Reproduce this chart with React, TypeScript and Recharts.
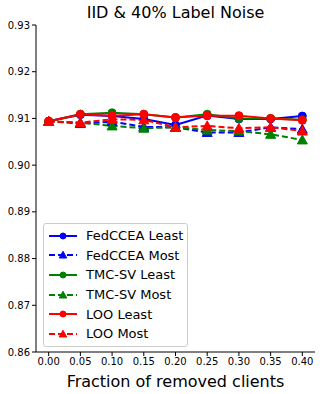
import { Line, LineChart, XAxis, YAxis } from 'recharts';

const fractions = [0, 0.05, 0.1, 0.15, 0.2, 0.25, 0.3, 0.35, 0.4];
const fedLeast = [0.9094, 0.9108, 0.9105, 0.9099, 0.9086, 0.9106, 0.9099, 0.9099, 0.9105];
const fedMost = [0.9094, 0.9089, 0.9093, 0.9082, 0.9081, 0.907, 0.907, 0.9081, 0.9077];
const tmcLeast = [0.9094, 0.9109, 0.9112, 0.9109, 0.9102, 0.9109, 0.91, 0.91, 0.9097];
const tmcMost = [0.9094, 0.9091, 0.9084, 0.9079, 0.9081, 0.9075, 0.9073, 0.9066, 0.9054];
const looLeast = [0.9094, 0.9109, 0.9106, 0.9109, 0.9102, 0.9106, 0.9106, 0.91, 0.9096];
const looMost = [0.9094, 0.9091, 0.9098, 0.9097, 0.9081, 0.9084, 0.9079, 0.9081, 0.9073];

const xTicks = [0, 0.05, 0.1, 0.15, 0.2, 0.25, 0.3, 0.35, 0.4];
const yTicks = [0.86, 0.87, 0.88, 0.89, 0.9, 0.91, 0.92, 0.93];

const data = fractions.map((f, i) => ({
  f,
  fedLeast: fedLeast[i],
  fedMost: fedMost[i],
  tmcLeast: tmcLeast[i],
  tmcMost: tmcMost[i],
  looLeast: looLeast[i],
  looMost: looMost[i],
}));

const series = [
  { key: 'fedLeast', name: 'FedCCEA Least', color: '#0000ff', dashed: false },
  { key: 'fedMost', name: 'FedCCEA Most', color: '#0000ff', dashed: true },
  { key: 'tmcLeast', name: 'TMC-SV Least', color: '#008000', dashed: false },
  { key: 'tmcMost', name: 'TMC-SV Most', color: '#008000', dashed: true },
  { key: 'looLeast', name: 'LOO Least', color: '#ff0000', dashed: false },
  { key: 'looMost', name: 'LOO Most', color: '#ff0000', dashed: true },
];

const font = '"DejaVu Sans", sans-serif';

function Marker({ cx, cy, color, tri, r = 4 }: any) {
  if (cx == null || cy == null) return null;
  if (tri) {
    const s = r * 1.25;
    return (
      <polygon
        points={`${cx},${cy - s} ${cx - s},${cy + s * 0.8} ${cx + s},${cy + s * 0.8}`}
        fill={color}
        stroke={color}
      />
    );
  }
  return <circle cx={cx} cy={cy} r={r} fill={color} stroke={color} />;
}

function LegendBox() {
  return (
    <div
      style={{
        background: 'rgba(255,255,255,0.8)',
        border: '1px solid #cccccc',
        borderRadius: 3,
        padding: '2px 4px 2px 4px',
        fontFamily: font,
        fontSize: 13,
        color: '#000',
      }}
    >
      {series.map((s) => (
        <div key={s.key} style={{ display: 'flex', alignItems: 'center', height: 19.6 }}>
          <svg width={30} height={12} style={{ marginRight: 8 }}>
            <line
              x1={1}
              x2={29}
              y1={6}
              y2={6}
              stroke={s.color}
              strokeWidth={2}
              strokeDasharray={s.dashed ? '6 3' : undefined}
            />
            <Marker cx={15} cy={6} color={s.color} tri={s.dashed} r={3} />
          </svg>
          <span>{s.name}</span>
        </div>
      ))}
    </div>
  );
}

export default function App() {
  return (
    <div style={{ position: 'absolute', left: 0, top: 0, width: 322, height: 394, background: '#fff' }}>
      <div
        style={{
          position: 'absolute',
          left: 36,
          width: 279,
          top: 3,
          textAlign: 'center',
          fontFamily: font,
          fontSize: 16,
        }}
      >
        IID &amp; 40% Label Noise
      </div>
      <LineChart
        width={322}
        height={394}
        data={data}
        margin={{ top: 25, right: 7, left: 0, bottom: 0 }}
      >
        <XAxis
          dataKey="f"
          type="number"
          domain={[-0.02, 0.42]}
          ticks={xTicks}
          tickFormatter={(v: number) => v.toFixed(2)}
          tick={{ fontSize: 10, fill: '#000', fontFamily: font }}
          tickSize={4}
          tickLine={{ stroke: '#000' }}
          axisLine={{ stroke: '#000' }}
          height={42}
          interval={0}
          label={{ value: 'Fraction of removed clients', position: 'insideBottom', offset: 7, fontSize: 16, fill: '#000', fontFamily: font }}
        />
        <XAxis
          xAxisId="top"
          orientation="top"
          dataKey="f"
          type="number"
          domain={[-0.02, 0.42]}
          tick={false}
          tickLine={false}
          axisLine={{ stroke: '#000' }}
          height={0}
        />
        <YAxis
          type="number"
          domain={[0.86, 0.93]}
          ticks={yTicks}
          tickFormatter={(v: number) => v.toFixed(2)}
          tick={{ fontSize: 10, fill: '#000', fontFamily: font }}
          tickSize={4}
          tickLine={{ stroke: '#000' }}
          axisLine={{ stroke: '#000' }}
          width={36}
          interval={0}
        />
        <YAxis
          yAxisId="right"
          orientation="right"
          type="number"
          domain={[0.86, 0.93]}
          tick={false}
          tickLine={false}
          axisLine={{ stroke: '#000' }}
          width={0}
        />
        {series.map((s) => (
          <Line
            key={s.key}
            dataKey={s.key}
            name={s.name}
            stroke={s.color}
            strokeWidth={2}
            strokeDasharray={s.dashed ? '6 3' : undefined}
            dot={(p: any) => <Marker key={`${s.key}-${p.index}`} cx={p.cx} cy={p.cy} color={s.color} tri={s.dashed} />}
            activeDot={false}
            isAnimationActive={false}
          />
        ))}
      </LineChart>
      <div style={{ position: 'absolute', left: 43, top: 223 }}>
        <LegendBox />
      </div>
    </div>
  );
}
